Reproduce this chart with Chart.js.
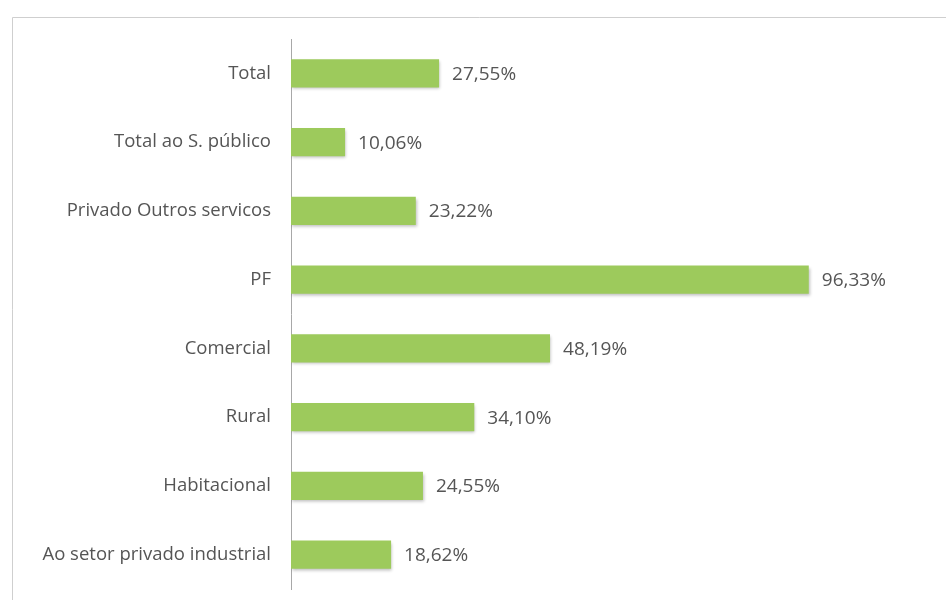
<!DOCTYPE html>
<html>
<head>
<meta charset="utf-8">
<script src="https://cdn.jsdelivr.net/npm/chart.js@4/dist/chart.umd.min.js"></script>
<style>
    html, body { margin: 0; padding: 0; background: #ffffff; }
    #wrap { width: 946px; height: 600px; position: relative; }
</style>
</head>
<body>
<div id="wrap"><canvas id="chart"></canvas></div>
<script>
const categories = [
    'Total',
    'Total ao S. público',
    'Privado Outros servicos',
    'PF',
    'Comercial',
    'Rural',
    'Habitacional',
    'Ao setor privado industrial'
];
const values = [27.55, 10.06, 23.22, 96.33, 48.19, 34.10, 24.55, 18.62];

const FONT = '"Open Sans", Lato, sans-serif';

function formatPct(v) {
    return v.toFixed(2).replace('.', ',') + '%';
}

// vertical gradient per bar, lighter on top
function barFill(context) {
    const chart = context.chart;
    const el = context.element;
    if (!chart.chartArea || !el || el.height === undefined) return '#9dca5c';
    const top = el.y - el.height / 2;
    const bottom = el.y + el.height / 2;
    const g = chart.ctx.createLinearGradient(0, top, 0, bottom);
    g.addColorStop(0, '#acd471');
    g.addColorStop(0.4, '#a0cc61');
    g.addColorStop(1, '#92c052');
    return g;
}

const frame = {
    id: 'frame',
    beforeDraw(chart) {
        const ctx = chart.ctx;
        ctx.save();
        ctx.strokeStyle = '#cfcfcf';
        ctx.lineWidth = 1;
        ctx.beginPath();
        ctx.moveTo(12.5, 620);
        ctx.lineTo(12.5, 17.5);
        ctx.lineTo(960, 17.5);
        ctx.stroke();
        ctx.restore();
    }
};

const barShadow = {
    id: 'barShadow',
    beforeDatasetsDraw(chart) {
        const ctx = chart.ctx;
        ctx.save();
        ctx.shadowColor = 'rgba(0, 0, 0, 0.25)';
        ctx.shadowBlur = 3;
        ctx.shadowOffsetX = 1;
        ctx.shadowOffsetY = 2;
    },
    afterDatasetsDraw(chart) {
        chart.ctx.restore();
    }
};

const valueLabels = {
    id: 'valueLabels',
    afterDatasetsDraw(chart) {
        const ctx = chart.ctx;
        const meta = chart.getDatasetMeta(0);
        ctx.save();
        ctx.font = '19px ' + FONT;
        ctx.fillStyle = '#555555';
        ctx.textAlign = 'left';
        ctx.textBaseline = 'middle';
        meta.data.forEach((bar, i) => {
            ctx.fillText(formatPct(values[i]), bar.x + 13, bar.y + 1);
        });
        ctx.restore();
    }
};

new Chart(document.getElementById('chart'), {
    type: 'bar',
    data: {
        labels: categories,
        datasets: [{
            data: values,
            backgroundColor: barFill,
            borderWidth: 0,
            categoryPercentage: 1,
            barPercentage: 0.41
        }]
    },
    options: {
        indexAxis: 'y',
        responsive: true,
        maintainAspectRatio: false,
        animation: false,
        layout: {
            padding: { top: 39, bottom: 11, right: 10, left: 0 }
        },
        plugins: {
            legend: { display: false },
            tooltip: { enabled: false }
        },
        scales: {
            x: {
                display: false,
                min: 0,
                max: 120
            },
            y: {
                afterFit(scale) {
                    // fixed label column; tick padding should not shrink the plot vertically
                    scale.width = 291;
                    scale.paddingTop = 0;
                    scale.paddingBottom = 0;
                },
                grid: { display: false, drawTicks: false },
                border: { display: true, color: '#a8a8a8', width: 1 },
                ticks: {
                    padding: 20,
                    color: '#555555',
                    font: { family: FONT, size: 18.5 }
                }
            }
        }
    },
    plugins: [frame, barShadow, valueLabels]
});
</script>
</body>
</html>
